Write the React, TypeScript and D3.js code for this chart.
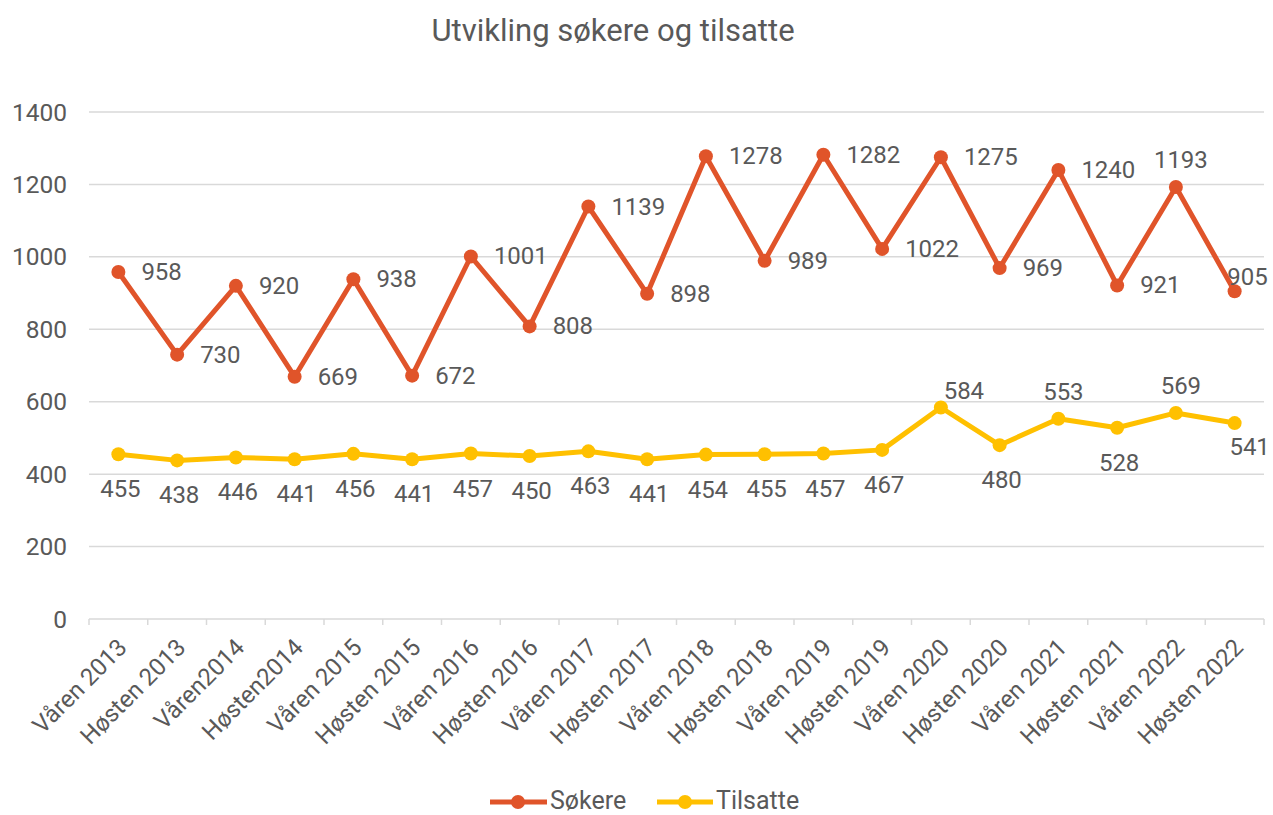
import React from "react";
import * as d3 from "d3";

const categories = [
  "Våren 2013", "Høsten 2013", "Våren2014", "Høsten2014", "Våren 2015", "Høsten 2015",
  "Våren 2016", "Høsten 2016", "Våren 2017", "Høsten 2017", "Våren 2018", "Høsten 2018",
  "Våren 2019", "Høsten 2019", "Våren 2020", "Høsten 2020", "Våren 2021", "Høsten 2021",
  "Våren 2022", "Høsten 2022",
];
const sokere = [958, 730, 920, 669, 938, 672, 1001, 808, 1139, 898, 1278, 989, 1282, 1022, 1275, 969, 1240, 921, 1193, 905];
const tilsatte = [455, 438, 446, 441, 456, 441, 457, 450, 463, 441, 454, 455, 457, 467, 584, 480, 553, 528, 569, 541];
const yTicks = [0, 200, 400, 600, 800, 1000, 1200, 1400];
// label placement codes (like Excel's data label positions)
const sokereLabelPos = ["r","r","r","r","r","r","r","r","r","r","r","r","r","r","r","r","r","r","a","l"];
const tilsatteLabelPos = ["b","b","b","b","b","b","b","b","b","b","b","b","b","b","ar","b","a","b","a","br"];

const W = 1273, H = 815;
const FONT = "Roboto, 'Noto Sans', sans-serif";
const TXT = "#595959";
const C1 = "#E0542A";
const C2 = "#FFC000";

const x = d3.scaleBand<string>().domain(categories).range([89, 1264]);
const y = d3.scaleLinear().domain([0, 1400]).range([619, 112]);
const cx = (i: number) => (x(categories[i]) as number) + x.bandwidth() / 2;

const offsets: Record<string, { dx: number; dy: number; anchor: string }> = {
  r: { dx: 23, dy: 0, anchor: "start" },
  a: { dx: 5, dy: -27, anchor: "middle" },
  b: { dx: 2, dy: 35, anchor: "middle" },
  ar: { dx: 23, dy: -17, anchor: "middle" },
  br: { dx: 15, dy: 24, anchor: "middle" },
  l: { dx: 33, dy: -14, anchor: "end" },
};

function Series({ values, color, pos }: { values: number[]; color: string; pos: string[] }) {
  const line = d3.line<number>().x((_, i) => cx(i)).y((d) => y(d));
  return (
    <g>
      <path d={line(values) || ""} fill="none" stroke={color} strokeWidth={5} strokeLinejoin="round" />
      {values.map((v, i) => (
        <circle key={i} cx={cx(i)} cy={y(v)} r={7} fill={color} />
      ))}
      {values.map((v, i) => {
        const o = offsets[pos[i]];
        return (
          <text key={"t" + i} x={cx(i) + o.dx} y={y(v) + o.dy} textAnchor={o.anchor}
            dominantBaseline="central" fontSize={24} fill={TXT}>{v}</text>
        );
      })}
    </g>
  );
}

export default function App() {
  return (
    <svg width={W} height={H} style={{ position: "absolute", left: 0, top: 0, background: "#fff" }}
      fontFamily={FONT}>
      <rect width={W} height={H} fill="#fff" />
      <text x={613} y={41} textAnchor="middle" fontSize={31} fill={TXT}>Utvikling søkere og tilsatte</text>
      {yTicks.map((t) => (
        <g key={t}>
          {t > 0 && <line x1={89} x2={1264} y1={y(t)} y2={y(t)} stroke="#D9D9D9" strokeWidth={1.5} />}
          <text x={67} y={y(t)} textAnchor="end" dominantBaseline="central" fontSize={24.5} fill={TXT}>{t}</text>
        </g>
      ))}
      <line x1={89} x2={1264} y1={y(0)} y2={y(0)} stroke="#D9D9D9" strokeWidth={1.5} />
      {d3.range(categories.length + 1).map((i) => {
        const xx = 89 + i * x.bandwidth();
        return <line key={i} x1={xx} x2={xx} y1={y(0)} y2={y(0) + 6} stroke="#D9D9D9" strokeWidth={1.5} />;
      })}
      {categories.map((c, i) => (
        <text key={c} transform={`translate(${cx(i) + 10},${y(0) + 30}) rotate(-45)`} textAnchor="end"
          fontSize={24} fill={TXT}>{c}</text>
      ))}
      <Series values={sokere} color={C1} pos={sokereLabelPos} />
      <Series values={tilsatte} color={C2} pos={tilsatteLabelPos} />
      <g>
        <line x1={490} x2={547} y1={802} y2={802} stroke={C1} strokeWidth={5} />
        <circle cx={518} cy={802} r={7} fill={C1} />
        <text x={550} y={809} fontSize={25} fill={TXT}>Søkere</text>
        <line x1={657} x2={713} y1={802} y2={802} stroke={C2} strokeWidth={5} />
        <circle cx={685} cy={802} r={7} fill={C2} />
        <text x={716} y={809} fontSize={25} fill={TXT}>Tilsatte</text>
      </g>
    </svg>
  );
}
